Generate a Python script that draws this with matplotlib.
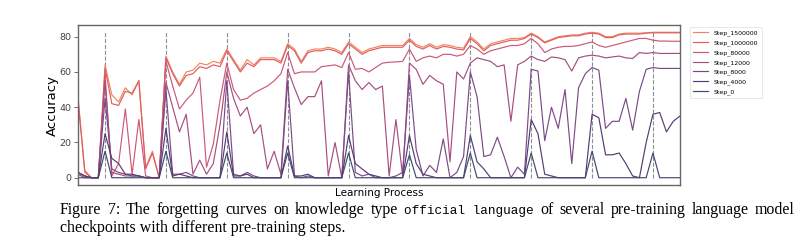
import numpy as np
import matplotlib.pyplot as plt

labels = ["Step_1500000", "Step_1000000", "Step_80000", "Step_12000",
          "Step_8000", "Step_4000", "Step_0"]
colors = ["#f08660", "#e15b62", "#cc5877", "#a64e80", "#7c4a88", "#553c74", "#3f4b6c"]

spikes = [4, 13, 22, 31, 40, 49, 58, 67, 76, 85]

step_1500000 = [46, 3, 0, 0,
                64, 47, 43, 51, 47, 55, 6, 15, 0,
                69, 60, 53, 60, 61, 65, 64, 66, 65,
                73, 67, 61, 67, 64, 68, 68, 68, 66,
                76, 73, 66, 72, 73, 73, 74, 73, 71,
                77, 74, 71, 73, 74, 75, 75, 75, 75,
                79, 75.5, 74, 76, 74, 75.5, 75, 74, 73.5,
                80, 77, 73, 76, 77, 78, 79, 79, 79.5,
                82, 80, 77, 78.5, 80, 80.5, 81, 81, 82,
                82.5, 82, 80, 80, 81.5, 82, 82, 82, 82.2,
                82.5, 82.5, 82.5, 82.5, 82.5]
step_1000000 = [44, 4, 0, 0,
                62, 42, 41, 49, 48, 55, 5, 14, 0,
                68, 59, 52, 58, 59, 63, 62, 64, 63,
                72, 66, 60, 65, 63, 67, 67, 67, 65,
                75, 72, 65, 71, 72, 72, 73, 72, 70,
                76, 73, 70, 72, 73, 74, 74, 74, 74,
                78, 74.5, 73, 75, 73, 74.5, 74, 73, 72.5,
                79, 76, 72, 75, 76, 77, 78, 78, 79,
                81.5, 79.5, 76.5, 78, 79.5, 80, 80.5, 80.5, 81.5,
                82, 81.5, 79.5, 79.5, 81, 81.5, 81.5, 81.5, 82,
                82.2, 82.2, 82.2, 82.2, 82.2]
step_80000 = [3, 1, 0, 0,
              58, 1, 8, 39, 2, 33, 1, 0, 0,
              66, 52, 39, 44, 48, 57, 6, 19, 44,
              65, 50, 44, 45, 48, 50, 52, 55, 59,
              71, 59, 60, 60, 60, 63, 63.5, 64, 62.5,
              71, 61.5, 62, 60, 62.5, 65, 65.5, 65.7, 66,
              73, 66, 68, 69, 68, 70, 70, 69, 70,
              75, 73, 70, 72, 73, 74, 75, 75, 76,
              79, 76, 71, 73, 74, 74.5, 74.5, 75, 76,
              77, 75, 74, 75, 76, 77, 78, 79, 79,
              78, 77.5, 77.5, 77.4, 77.4]
step_12000 = [3, 1, 0, 0,
              55, 3, 2, 1, 1, 1, 0, 0, 0,
              54, 40, 26, 36, 2, 10, 2, 8, 30,
              60, 45, 35, 40, 25, 30, 5, 15, 2,
              61.5, 51, 41.5, 46, 46, 55, 1, 20, 0,
              64, 55, 50, 54, 50, 52, 1, 33, 1,
              65, 61.5, 53, 58, 55, 53, 9, 60, 56,
              65, 68, 67, 66, 63, 64, 32, 64, 66,
              69, 67, 66, 68.5, 68, 67, 60.5, 68, 69,
              69.5, 69, 68, 68.5, 69, 68, 67.6, 71, 70.5,
              71, 70.5, 70.5, 70.5, 70.5]
step_8000 = [2, 0, 0, 0,
             45, 5, 3, 2, 1, 1, 0, 0, 0,
             50, 2, 2, 3, 1, 0, 0, 0, 0,
             55, 2, 1, 3, 1, 0, 0, 0, 0,
             55, 1, 0, 1, 0, 0, 0, 0, 0,
             60, 3, 1, 2, 0, 0, 0, 1, 3,
             58, 16, 1, 7, 3, 22, 0, 3, 12,
             60, 46, 12, 13, 23, 12, 0, 6, 2,
             61.5, 60.5, 21, 40, 28, 50, 8, 51, 59,
             62.5, 61, 28, 32, 32, 45, 27, 49, 61.5,
             62.5, 62, 62, 62, 62]
step_4000 = [3, 1, 0, 0,
             25, 11, 8, 2, 2, 1, 0, 0, 0,
             28, 1, 2, 1, 0, 0, 0, 0, 0,
             26, 1, 1, 2, 0, 0, 0, 0, 0,
             18, 1, 1, 2, 0, 0, 0, 0, 0,
             24, 8, 5, 2, 1, 0, 0, 0, 0,
             24, 8, 2, 1, 0, 0, 0, 0, 0,
             24, 9, 5, 0, 0, 0, 0, 0, 0,
             33, 25, 2, 1, 0, 0, 0, 0, 0,
             36, 34, 13, 13, 14, 8, 1, 0, 20,
             36, 37, 26, 32, 35]
step_0 = [0, 0, 0, 0,
          15, 0, 0, 0, 0, 0, 0, 0, 0,
          15, 0, 0, 0, 0, 0, 0, 0, 0,
          14, 0, 0, 0, 0, 0, 0, 0, 0,
          14, 0, 0, 0, 0, 0, 0, 0, 0,
          14, 0, 0, 0, 0, 0, 0, 0, 0,
          13, 0, 0, 0, 0, 0, 0, 0, 0,
          14, 0, 0, 0, 0, 0, 0, 0, 0,
          14, 0, 0, 0, 0, 0, 0, 0, 0,
          15, 0, 0, 0, 0, 0, 0, 0, 0,
          14, 0, 0, 0, 0]

series = [step_1500000, step_1000000, step_80000, step_12000, step_8000, step_4000, step_0]

caption_line1 = [("Figure", "serif"), ("7:", "serif"), ("The", "serif"), ("forgetting", "serif"),
                 ("curves", "serif"), ("on", "serif"), ("knowledge", "serif"), ("type", "serif"),
                 ("official language", "mono"), ("of", "serif"), ("several", "serif"),
                 ("pre-training", "serif"), ("language", "serif"), ("model", "serif")]
caption_line2 = "checkpoints with different pre-training steps."

fig = plt.figure(figsize=(8, 2.5), dpi=100)
ax = fig.add_axes([0.0975, 0.26, 0.7525, 0.64])

top = max(max(s) for s in series)
for s in spikes:
    ax.plot([s, s], [0, top], linestyle="--", color="#8a8f99", linewidth=0.8, zorder=0)

for vals, lab, c in zip(series, labels, colors):
    ax.plot(np.arange(len(vals)), vals, color=c, linewidth=0.85, label=lab)

ax.set_xlim(0, len(step_0) - 1)
ax.set_xticks([])
ax.set_yticks([0, 20, 40, 60, 80])
ax.tick_params(axis="y", labelsize=6.8, labelcolor="#444444", color="#555555", length=3, width=0.6, pad=2)
for sp in ax.spines.values():
    sp.set_color("#666666")
    sp.set_linewidth(1.0)
ax.set_xlabel("Learning Process", fontsize=7.5, labelpad=2)
ax.set_ylabel("Accuracy", fontsize=9.5, labelpad=0)

leg = ax.legend(loc="upper left", bbox_to_anchor=(1.013, 1.0), fontsize=4.5,
                frameon=True, handlelength=2.4, borderpad=0.5, labelspacing=0.6,
                handletextpad=1.0, borderaxespad=0.3)
leg.get_frame().set_edgecolor("#dddddd")
leg.get_frame().set_linewidth(0.6)

# caption, first line justified like the LaTeX original
fig.canvas.draw()
r = fig.canvas.get_renderer()
W = fig.bbox.width
serif_size = 11.4
mono_size = 9.2
x_left, x_right = 60 / W, 795 / W
y1 = 0.143
texts = []
for word, kind in caption_line1:
    if kind == "mono":
        t = fig.text(0, y1, word, family="Liberation Mono", fontsize=mono_size, va="baseline")
    else:
        t = fig.text(0, y1, word, family="Liberation Serif", fontsize=serif_size, va="baseline")
    texts.append(t)
widths = [t.get_window_extent(r).width / W for t in texts]
gap = (x_right - x_left - sum(widths)) / (len(texts) - 1)
x = x_left
for t, w in zip(texts, widths):
    t.set_x(x)
    x += w + gap
fig.text(x_left, y1 - 0.072, caption_line2, family="Liberation Serif",
         fontsize=serif_size, va="baseline")

fig.savefig("out.png", dpi=100)
